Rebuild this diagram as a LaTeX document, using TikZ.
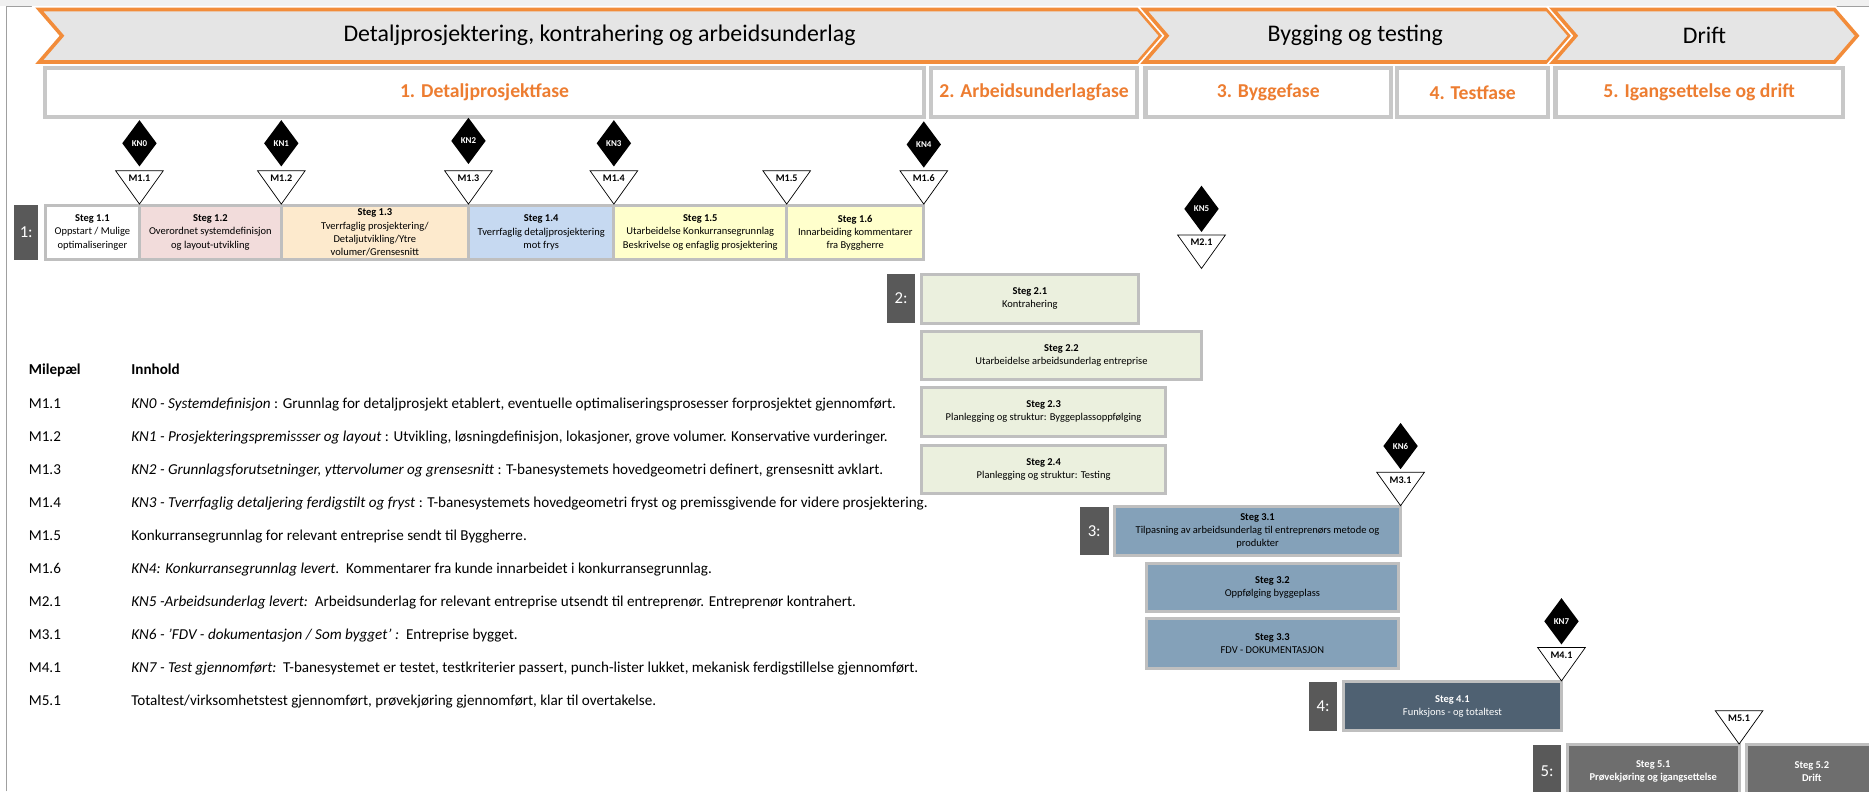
\documentclass[tikz,border=0pt]{standalone}
\usepackage{fontspec}
\setmainfont{Carlito}
\usetikzlibrary{positioning,shapes.geometric}

\definecolor{ssOrange}{RGB}{242,140,58}
\definecolor{ssPhase}{RGB}{237,125,49}
\definecolor{ssBanner}{RGB}{229,229,229}
\definecolor{ssFrame}{RGB}{200,200,200}
\definecolor{ssStepline}{RGB}{191,191,191}
\definecolor{ssDark}{RGB}{89,89,89}
\definecolor{ssPink}{RGB}{242,220,219}
\definecolor{ssPeach}{RGB}{253,234,205}
\definecolor{ssBlue}{RGB}{198,217,241}
\definecolor{ssYellow}{RGB}{255,255,204}
\definecolor{ssSage}{RGB}{235,240,222}
\definecolor{ssSteel}{RGB}{132,161,185}
\definecolor{ssSlate}{RGB}{79,97,114}
\definecolor{ssGrey}{RGB}{110,110,110}
\definecolor{ssStrip}{RGB}{240,240,240}
\definecolor{ssRule}{RGB}{160,160,160}

\begin{document}
\begin{tikzpicture}[
		x=1pt, y=-1pt,
		every text node part/.style={align=center},
		node distance=5pt,
		banner/.style={draw=ssOrange, line width=3pt, fill=ssBanner, line join=miter,
			preaction={draw=white, line width=6pt}},
		bannertext/.style={font=\fontsize{20}{24}\selectfont, inner sep=0pt},
		phasebox/.style={draw=ssFrame, line width=3.5pt, fill=white, anchor=north west,
			minimum height=41pt, inner sep=0pt, outer sep=0pt, text=ssPhase,
			font=\fontsize{16.5}{20}\selectfont\bfseries},
		stepbox/.style={draw=ssStepline, line width=2.5pt, anchor=north west, inner sep=1pt,
			outer sep=0pt, font=\fontsize{8.8}{11}\selectfont},
		rowlabel/.style={fill=ssDark, text=white, inner sep=0pt, outer sep=0pt,
			minimum width=24pt, font=\fontsize{14}{16}\selectfont},
		kn/.style={diamond, fill=black, text=white, inner sep=0pt, minimum width=29pt,
			minimum height=39pt, font=\fontsize{7.5}{8}\selectfont\bfseries},
		mile/.style={isosceles triangle, isosceles triangle stretches, shape border rotate=270,
			draw=black, line width=0.6pt, fill=white, inner sep=0pt, minimum width=40pt,
			minimum height=28pt, anchor=apex, font=\fontsize{8.5}{9}\selectfont\bfseries},
		tabtext/.style={anchor=base west, inner sep=0pt, font=\fontsize{12.7}{15}\selectfont}
	]
	\useasboundingbox (0,0) rectangle (1568,664);
	\clip (0,0) rectangle (1568,664);
	
	% window frame
	\fill[ssStrip] (0,0) rectangle (1568,5);
	\draw[ssRule, line width=1pt] (5.5,664) -- (5.5,5.5) -- (1568,5.5);
	
	% top banners
	\draw[banner] (33,8) -- (955,8) -- (974,30) -- (955,52) -- (33,52) -- (52,30) -- cycle;
	\draw[banner] (960,8) -- (1298,8) -- (1317,30) -- (1298,52) -- (960,52) -- (979,30) -- cycle;
	\draw[banner] (1303,8) -- (1539,8) -- (1558,30) -- (1539,52) -- (1303,52) -- (1322,30) -- cycle;
	\node[bannertext] (b1) at (503,30) {Detaljprosjektering, kontrahering og arbeidsunderlag};
	\node[bannertext] (b2) at (1137,30) {Bygging og testing};
	\node[bannertext] (b3) at (1430,30) {Drift};
	
	% phases
	\node[phasebox, minimum width=737pt] (p1) at (38,57) {1. Detaljprosjektfase};
	\node[phasebox, minimum width=173pt] (p2) at (781,57) {2. Arbeidsunderlagfase};
	\node[phasebox, minimum width=206pt] (p3) at (961,57) {3. Byggefase};
	\node[phasebox, minimum width=127pt] (p4) at (1172,57) {4. Testfase};
	\node[phasebox, minimum width=241pt] (p5) at (1305,57) {5. Igangsettelse og drift};
	
	% fase 1
	\node[stepbox, fill=white, minimum width=79pt, minimum height=46pt] (s11) at (38,172) {\textbf{Steg 1.1}\\Oppstart / Mulige\\optimaliseringer};
	\node[stepbox, fill=ssPink, minimum width=119pt, minimum height=46pt, right=0pt of s11] (s12) {\textbf{Steg 1.2}\\Overordnet systemdefinisjon\\og layout-utvikling};
	\node[stepbox, fill=ssPeach, minimum width=157pt, minimum height=46pt, right=0pt of s12] (s13) {\textbf{Steg 1.3}\\Tverrfaglig prosjektering/\\Detaljutvikling/Ytre\\volumer/Grensesnitt};
	\node[stepbox, fill=ssBlue, minimum width=122pt, minimum height=46pt, right=0pt of s13] (s14) {\textbf{Steg 1.4}\\Tverrfaglig detaljprosjektering\\mot frys};
	\node[stepbox, fill=ssYellow, minimum width=145pt, minimum height=46pt, right=0pt of s14] (s15) {\textbf{Steg 1.5}\\Utarbeidelse Konkurransegrunnlag\\Beskrivelse og enfaglig prosjektering};
	\node[stepbox, fill=ssYellow, minimum width=115pt, minimum height=46pt, right=0pt of s15] (s16) {\textbf{Steg 1.6}\\Innarbeiding kommentarer\\fra Byggherre};
	\node[rowlabel, minimum width=20pt, minimum height=46pt, left=6pt of s11] (r1) {1:};
	
	\node[mile] (m11) at (s11.north east) {M1.1};
	\node[mile] (m12) at (s12.north east) {M1.2};
	\node[mile] (m13) at (s13.north east) {M1.3};
	\node[mile] (m14) at (s14.north east) {M1.4};
	\node[mile] (m15) at (s15.north east) {M1.5};
	\node[mile] (m16) at (s16.north east) {M1.6};
	\node[kn, above=3pt of m11] (kn0) {KN0};
	\node[kn, above=3pt of m12] (kn1) {KN1};
	\node[kn, above=5pt of m13] (kn2) {KN2};
	\node[kn, above=3pt of m14] (kn3) {KN3};
	\node[kn, above=2pt of m16] (kn4) {KN4};
	
	% fase 2
	\node[stepbox, fill=ssSage, minimum width=182pt, minimum height=41pt] (s21) at (773,230) {\textbf{Steg 2.1}\\Kontrahering};
	\node[stepbox, fill=ssSage, minimum width=235pt, minimum height=40pt, below=7pt of s21.south west, anchor=north west] (s22) {\textbf{Steg 2.2}\\Utarbeidelse arbeidsunderlag entreprise};
	\node[stepbox, fill=ssSage, minimum width=205pt, minimum height=41pt, below=7pt of s22.south west, anchor=north west] (s23) {\textbf{Steg 2.3}\\Planlegging og struktur: Byggeplassoppfølging};
	\node[stepbox, fill=ssSage, minimum width=205pt, minimum height=40pt, below=8pt of s23.south west, anchor=north west] (s24) {\textbf{Steg 2.4}\\Planlegging og struktur: Testing};
	\node[rowlabel, minimum height=41pt, left=5pt of s21] (r2) {2:};
	
	\node[mile] (m21) at (1008,226) {M2.1};
	\node[kn, above=2pt of m21] (kn5) {KN5};
	
	% fase 3
	\node[stepbox, fill=ssSteel, minimum width=240pt, minimum height=41pt] (s31) at (935,425) {\textbf{Steg 3.1}\\Tilpasning av arbeidsunderlag til entreprenørs metode og\\produkter};
	\node[stepbox, fill=ssSteel, minimum width=211pt, minimum height=40pt] (s32) at (962,473) {\textbf{Steg 3.2}\\Oppfølging byggeplass};
	\node[stepbox, fill=ssSteel, minimum width=211pt, minimum height=42pt, below=6pt of s32.south west, anchor=north west] (s33) {\textbf{Steg 3.3}\\FDV - DOKUMENTASJON};
	\node[rowlabel, minimum height=41pt, left=5pt of s31] (r3) {3:};
	
	\node[mile] (m31) at (s31.north east) {M3.1};
	\node[kn, above=2pt of m31] (kn6) {KN6};
	
	% fase 4
	\node[stepbox, fill=ssSlate, text=white, minimum width=183pt, minimum height=41pt] (s41) at (1127,572) {\textbf{Steg 4.1}\\Funksjons - og totaltest};
	\node[rowlabel, minimum height=41pt, left=5pt of s41] (r4) {4:};
	
	\node[mile] (m41) at (s41.north east) {M4.1};
	\node[kn, above=2pt of m41] (kn7) {KN7};
	
	% fase 5
	\node[stepbox, fill=ssGrey, text=white, font=\fontsize{8.8}{11}\selectfont\bfseries, minimum width=144pt, minimum height=44pt] (s51) at (1315,625) {Steg 5.1\\Prøvekjøring og igangsettelse};
	\node[stepbox, fill=ssGrey, text=white, font=\fontsize{8.8}{11}\selectfont\bfseries, minimum width=110pt, minimum height=44pt, right=6pt of s51] (s52) {Steg 5.2\\Drift};
	\node[rowlabel, minimum height=44pt, left=5pt of s51] (r5) {5:};
	
	\node[mile] (m51) at (s51.north east) {M5.1};
	
	% milepaeler
	\node[tabtext] (h1) at (24,314.5) {\textbf{Milepæl}};
	\node[tabtext] (h2) at (110,314.5) {\textbf{Innhold}};
	\node[tabtext] (l11) at (24,342.5) {M1.1};
	\node[tabtext] (t11) at (110,342.5) {\textit{KN0 - Systemdefinisjon} : Grunnlag for detaljprosjekt etablert, eventuelle optimaliseringsprosesser forprosjektet gjennomført.};
	\node[tabtext] (l12) at (24,370.2) {M1.2};
	\node[tabtext] (t12) at (110,370.2) {\textit{KN1 - Prosjekteringspremissser og layout} : Utvikling, løsningdefinisjon, lokasjoner, grove volumer. Konservative vurderinger.};
	\node[tabtext] (l13) at (24,397.9) {M1.3};
	\node[tabtext] (t13) at (110,397.9) {\textit{KN2 - Grunnlagsforutsetninger, yttervolumer og grensesnitt} : T-banesystemets hovedgeometri definert, grensesnitt avklart.};
	\node[tabtext] (l14) at (24,425.6) {M1.4};
	\node[tabtext] (t14) at (110,425.6) {\textit{KN3 - Tverrfaglig detaljering ferdigstilt og fryst} : T-banesystemets hovedgeometri fryst og premissgivende for videre prosjektering.};
	\node[tabtext] (l15) at (24,453.3) {M1.5};
	\node[tabtext] (t15) at (110,453.3) {Konkurransegrunnlag for relevant entreprise sendt til Byggherre.};
	\node[tabtext] (l16) at (24,481) {M1.6};
	\node[tabtext] (t16) at (110,481) {\textit{KN4: Konkurransegrunnlag levert}.\ \ Kommentarer fra kunde innarbeidet i konkurransegrunnlag.};
	\node[tabtext] (l21) at (24,508.7) {M2.1};
	\node[tabtext] (t21) at (110,508.7) {\textit{KN5 -Arbeidsunderlag levert:}\ \ Arbeidsunderlag for relevant entreprise utsendt til entreprenør. Entreprenør kontrahert.};
	\node[tabtext] (l31) at (24,536.4) {M3.1};
	\node[tabtext] (t31) at (110,536.4) {\textit{KN6 - 'FDV - dokumentasjon / Som bygget' :}\ \ Entreprise bygget.};
	\node[tabtext] (l41) at (24,564.1) {M4.1};
	\node[tabtext] (t41) at (110,564.1) {\textit{KN7 - Test gjennomført:}\ \ T-banesystemet er testet, testkriterier passert, punch-lister lukket, mekanisk ferdigstillelse gjennomført.};
	\node[tabtext] (l51) at (24,591.8) {M5.1};
	\node[tabtext] (t51) at (110,591.8) {Totaltest/virksomhetstest gjennomført, prøvekjøring gjennomført, klar til overtakelse.};
	
\end{tikzpicture}
\end{document}
